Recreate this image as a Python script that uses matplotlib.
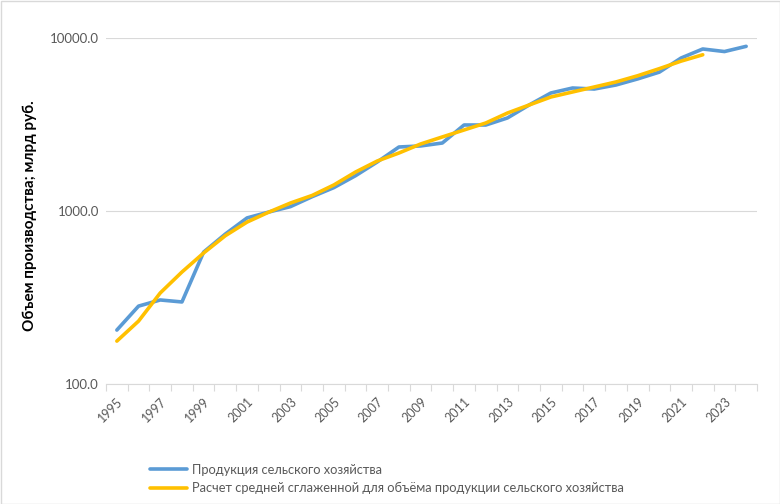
import matplotlib
matplotlib.use("Agg")
import matplotlib.pyplot as plt
from matplotlib.patches import Rectangle

years = list(range(1995, 2025))
production = [205, 282, 306, 298, 579, 736, 912, 986, 1060, 1210, 1365, 1600,
              1920, 2344, 2377, 2472, 3142, 3140, 3450, 4100, 4810, 5140,
              5070, 5350, 5800, 6350, 7660, 8640, 8350, 8950]
smoothed = [177, 231, 336, 444, 572, 720, 863, 985, 1112, 1230, 1414, 1680,
            1945, 2164, 2440, 2680, 2940, 3226, 3684, 4100, 4560, 4875,
            5210, 5570, 6050, 6650, 7350, 8000]
series_names = ["Продукция сельского хозяйства",
                "Расчет средней сглаженной для объёма продукции сельского хозяйства"]
y_label = "Объем производства; млрд руб."

plt.rcParams['font.family'] = ['Lato', 'DejaVu Sans']

fig = plt.figure(figsize=(7.8, 5.04), dpi=100)
ax = fig.add_axes([106 / 780, 1 - 384 / 504, 651 / 780, 346 / 504])

x_prod = list(range(len(production)))
x_smooth = list(range(len(smoothed)))
l1, = ax.plot(x_prod, production, color='#5B9BD5', lw=2.6, solid_capstyle='round')
l2, = ax.plot(x_smooth, smoothed, color='#FFC000', lw=2.6, solid_capstyle='round')

ax.set_yscale('log')
ax.set_ylim(100, 10000)
ax.set_yticks([100, 1000, 10000])
ax.set_yticklabels(['100.0', '1000.0', '10000.0'])
ax.minorticks_off()
ax.set_xlim(-0.5, len(years) - 0.5)
ax.set_xticks(list(range(0, len(years), 2)))
ax.set_xticklabels([str(y) for y in years[::2]], rotation=45, ha='right',
                   va='top', rotation_mode='anchor')
ax.set_xticks([i - 0.5 for i in range(len(years) + 1)], minor=True)
ax.tick_params(axis='x', which='major', length=0, pad=8, labelsize=9, labelcolor='#595959')
ax.tick_params(axis='x', which='minor', length=5, color='#D9D9D9', width=0.8)
ax.tick_params(axis='y', which='major', length=0, labelsize=9.5,
               labelcolor='#595959', pad=5)
ax.tick_params(axis='y', which='minor', length=0)

ax.grid(axis='y', which='major', color='#D9D9D9', lw=0.8)
for s in ['top', 'right', 'left']:
    ax.spines[s].set_visible(False)
ax.spines['bottom'].set_color('#D9D9D9')
ax.spines['bottom'].set_linewidth(0.8)

fig.text(30 / 780, 1 - 216 / 504, y_label, rotation=90, ha='center', va='center',
         fontsize=11, fontweight='bold', color='black')

fig.legend([l1, l2], series_names, loc='upper left',
           bbox_to_anchor=(138 / 780, 1 - 452 / 504), frameon=False,
           fontsize=9.3, labelcolor='#595959', handlelength=2.9, handletextpad=0.35,
           labelspacing=0.5)

fig.patches.append(Rectangle((0.5 / 780, 0.5 / 504), 1 - 1 / 780, 1 - 1 / 504,
                             transform=fig.transFigure, fill=False,
                             edgecolor='#D9D9D9', lw=1))

fig.savefig("out.png", dpi=100)
